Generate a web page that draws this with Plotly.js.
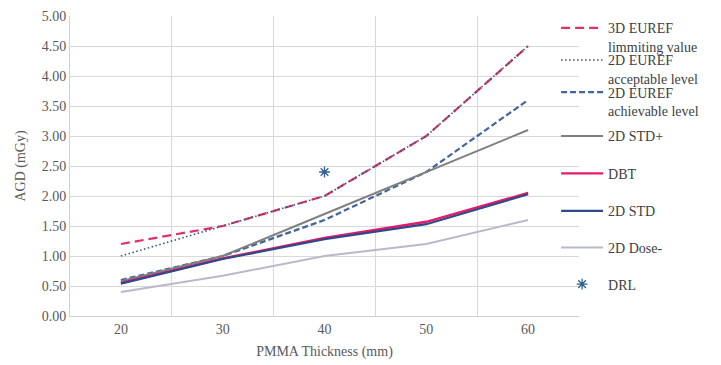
<!DOCTYPE html>
<html>
<head>
<meta charset="utf-8">
<script src="https://cdn.plot.ly/plotly-3.0.1.min.js"></script>
<style>html,body{margin:0;padding:0;background:#fff;}#chart{width:721px;height:365px;}
#chart text, #chart tspan{font-family:'Liberation Serif' !important;}</style>
</head>
<body>
<div id="chart"></div>
<script>
const thickness = [20, 30, 40, 50, 60];
const euref3dLimiting = [1.2, 1.5, 2.0, 3.0, 4.5];
const euref2dAcceptable = [1.0, 1.5, 2.0, 3.0, 4.5];
const euref2dAchievable = [0.6, 1.0, 1.6, 2.4, 3.6];
const std2dPlus = [0.58, 1.0, 1.7, 2.4, 3.1];
const dbt = [0.55, 0.96, 1.3, 1.57, 2.05];
const std2d = [0.54, 0.95, 1.28, 1.53, 2.03];
const dose2dMinus = [0.4, 0.67, 1.0, 1.2, 1.6];
const drlX = [40];
const drlY = [2.4];
const xTickVals = [20, 30, 40, 50, 60];
const xGridVals = [25, 35, 45, 55];
const yTickVals = [0, 0.5, 1, 1.5, 2, 2.5, 3, 3.5, 4, 4.5, 5];

const names = ['3D EUREF<br>limmiting value', '2D EUREF<br>acceptable level', '2D EUREF<br>achievable level',
  '2D STD+', 'DBT', '2D STD', '2D Dose-', 'DRL'];

const traces = [
  {x: thickness, y: euref3dLimiting, name: names[0], legend: 'legend', mode: 'lines',
   line: {color: '#e0306a', width: 2.2, dash: '9px,5px'}},
  {x: thickness, y: euref2dAcceptable, name: names[1], legend: 'legend2', mode: 'lines',
   line: {color: '#2f5a78', width: 1.6, dash: '1.5px,2.5px'}},
  {x: thickness, y: euref2dAchievable, name: names[2], legend: 'legend3', mode: 'lines',
   line: {color: '#44649c', width: 2.2, dash: '6px,3px'}},
  {x: thickness, y: std2dPlus, name: names[3], legend: 'legend4', mode: 'lines',
   line: {color: '#808080', width: 2}},
  {x: thickness, y: dbt, name: names[4], legend: 'legend5', mode: 'lines',
   line: {color: '#e8186a', width: 2.4}},
  {x: thickness, y: std2d, name: names[5], legend: 'legend6', mode: 'lines',
   line: {color: '#2e4a8a', width: 2.2}},
  {x: thickness, y: dose2dMinus, name: names[6], legend: 'legend7', mode: 'lines',
   line: {color: '#b9b9cc', width: 2}},
  {x: drlX, y: drlY, name: names[7], legend: 'legend8', mode: 'markers',
   marker: {symbol: 'asterisk-open', size: 9, color: '#2f5f8f', line: {color: '#2f5f8f', width: 1.3}}}
];

const fontFam = 'Liberation Serif';
const legendYs = [0.929, 0.822, 0.715, 0.599, 0.474, 0.349, 0.227, 0.105];
function mkLegend(y) {
  return {x: 0.955, xanchor: 'left', y: y, yanchor: 'middle', valign: 'top', bgcolor: 'rgba(0,0,0,0)',
    font: {family: fontFam, size: 14, color: '#404040'}, itemwidth: 42, borderwidth: 0};
}

const layout = {
  width: 721, height: 365,
  margin: {l: 70, r: 142, t: 12, b: 49},
  paper_bgcolor: '#ffffff', plot_bgcolor: '#ffffff',
  font: {family: fontFam, size: 14, color: '#595959'},
  showlegend: true,
  xaxis: {
    range: [15, 65], tickmode: 'array', tickvals: xTickVals, ticktext: xTickVals.map(String),
    showgrid: false, zeroline: false, showline: true, linecolor: '#d0d0d0', linewidth: 1,
    ticks: '', tickfont: {family: fontFam, size: 14, color: '#595959'},
    minor: {tickmode: 'array', tickvals: xGridVals, showgrid: true, gridcolor: '#d9d9d9', gridwidth: 1, ticks: ''},
    title: {text: 'PMMA Thickness (mm)', font: {family: fontFam, size: 14, color: '#595959'}, standoff: 10}
  },
  yaxis: {
    range: [0, 5], tickmode: 'array', tickvals: yTickVals, tickformat: '.2f',
    showgrid: true, gridcolor: '#d9d9d9', gridwidth: 1, zeroline: false,
    showline: true, linecolor: '#d0d0d0', linewidth: 1, ticks: '',
    tickfont: {family: fontFam, size: 14, color: '#595959'},
    title: {text: 'AGD (mGy)', font: {family: fontFam, size: 14, color: '#595959'}, standoff: 12}
  },
  shapes: [{type: 'rect', xref: 'paper', yref: 'paper', x0: 0.929, x1: 1.0, y0: 0.02, y1: 0.985,
    fillcolor: '#ffffff', line: {width: 0}, layer: 'between'}]
};
legendYs.forEach((y, i) => { layout[i === 0 ? 'legend' : 'legend' + (i + 1)] = mkLegend(y); });

Plotly.newPlot('chart', traces, layout, {displayModeBar: false});
</script>
</body>
</html>
